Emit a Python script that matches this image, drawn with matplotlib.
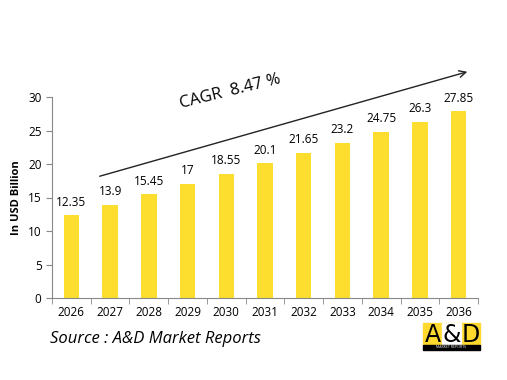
import matplotlib
matplotlib.use("Agg")
import matplotlib.pyplot as plt
from matplotlib.patches import Rectangle, FancyArrowPatch

years = ['2026', '2027', '2028', '2029', '2030', '2031', '2032', '2033', '2034', '2035', '2036']
values = [12.35, 13.9, 15.45, 17, 18.55, 20.1, 21.65, 23.2, 24.75, 26.3, 27.85]
labels = ['12.35', '13.9', '15.45', '17', '18.55', '20.1', '21.65', '23.2', '24.75', '26.3', '27.85']

plt.rcParams['font.family'] = ['Open Sans', 'DejaVu Sans']
bar_color = '#FDDD2E'
grey = '#888888'

fig = plt.figure(figsize=(5.07, 3.8), dpi=100)
ax = fig.add_axes([52 / 507, 1 - 298 / 380, 426 / 507, 201 / 380])

x = range(len(years))
ax.bar(x, values, width=0.4, color=bar_color)
for i, v in enumerate(values):
    ax.text(i, v + 1.0, labels[i], ha='center', va='bottom', fontsize=8.5)

ax.set_xlim(-0.5, len(years) - 0.5)
ax.set_ylim(0, 30)
ax.set_yticks(range(0, 31, 5))
ax.set_xticks(list(x))
ax.set_xticklabels(years, fontsize=8.5)
ax.set_xticks([i - 0.5 for i in range(len(years) + 1)], minor=True)
ax.tick_params(axis='x', which='major', length=0, pad=6)
ax.tick_params(axis='x', which='minor', length=4, color=grey, direction='out')
ax.tick_params(axis='y', length=4, color=grey, labelsize=8.5)
for s in ['top', 'right']:
    ax.spines[s].set_visible(False)
for s in ['left', 'bottom']:
    ax.spines[s].set_color(grey)
ax.set_ylabel('In USD Billion', fontsize=8, fontweight='bold')
ax.yaxis.set_label_coords(-30 / 426, 0.5)

# CAGR arrow
fig.patches.append(FancyArrowPatch(
    (97 / 507, 1 - 177 / 380), (470 / 507, 1 - 71 / 380),
    transform=fig.transFigure, arrowstyle='->', mutation_scale=12, lw=1, color='#222222'))
fig.text(230 / 507, 1 - 92 / 380, 'CAGR  8.47 %', fontsize=12, rotation=14,
         ha='center', va='center')

fig.text(50 / 507, 1 - 339 / 380, 'Source : A&D Market Reports', fontsize=12,
         style='italic', ha='left', va='center')

# logo
lx, ly, lw, lh = 423 / 507, 1 - 345 / 380, 57 / 507, 22 / 380
fig.patches.append(Rectangle((lx, ly), lw, lh, transform=fig.transFigure, color='#FFD92E'))
fig.patches.append(Rectangle((lx + lw / 3, ly), lw / 3, lh, transform=fig.transFigure, color='white'))
fig.patches.append(Rectangle((lx, ly - 5 / 380), lw, 5 / 380, transform=fig.transFigure, color='black'))
for k, ch in enumerate(['A', '&', 'D']):
    fig.text(lx + lw * (k + 0.5) / 3, ly + lh / 2 - 1 / 380, ch, fontsize=17, ha='center',
             va='center', color='black', family='DejaVu Sans')
fig.text(lx + lw / 2, ly - 2.5 / 380, 'MARKET REPORTS', fontsize=2.5, ha='center', va='center',
         color='white')

fig.savefig('out.png', dpi=100)
